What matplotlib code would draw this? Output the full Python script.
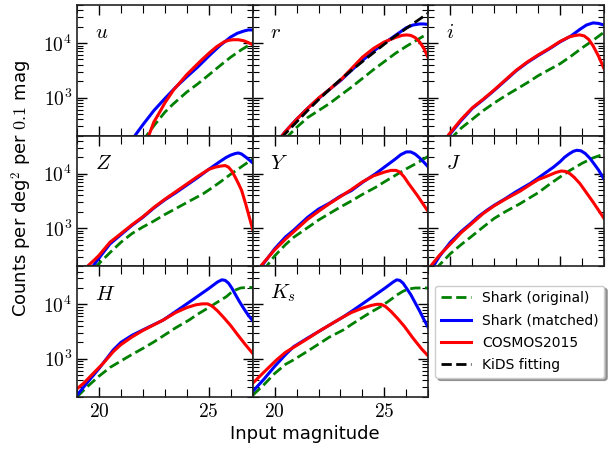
import numpy as np
import matplotlib
matplotlib.use("Agg")
import matplotlib.pyplot as plt
from matplotlib.ticker import MultipleLocator, FuncFormatter, NullFormatter
from matplotlib.lines import Line2D

plt.rcParams['mathtext.fontset'] = 'cm'
plt.rcParams['font.family'] = 'DejaVu Sans'

# Bandas (ordem dos paineis)
bands = ['u', 'r', 'i', 'Z', 'Y', 'J', 'H', 'K_s']

# Shark (original) - magnitude, contagens por deg^2 por 0.1 mag
orig_mag = {
    'u': [22.0, 22.17, 22.5, 23.0, 23.38, 24.0, 24.5, 24.9, 25.5, 26.0, 26.5, 27.0],
    'r': [20.5, 20.63, 21.0, 21.5, 22.0, 22.5, 23.0, 23.5, 24.0, 24.5, 25.0, 25.5, 26.0, 26.5, 27.0],
    'i': [20.0, 20.16, 20.5, 21.0, 21.5, 22.0, 22.5, 23.0, 23.5, 24.0, 24.5, 25.0, 25.5, 26.0, 26.5, 27.0],
    'Z': [19.8, 19.9, 20.5, 21.0, 21.5, 22.0, 22.5, 23.0, 23.5, 24.0, 24.74, 25.0, 25.5, 26.0, 26.5, 27.0],
    'Y': [19.5, 19.65, 20.0, 20.5, 20.86, 21.5, 22.0, 22.5, 23.0, 23.5, 24.0, 24.6, 25.0, 25.5, 26.0, 26.5, 27.0],
    'J': [19.35, 19.47, 20.0, 20.5, 20.91, 21.5, 22.0, 22.5, 23.18, 24.0, 24.5, 25.0, 25.45, 26.0, 26.5, 27.0],
    'H': [19.0, 19.5, 20.0, 20.5, 21.0, 21.5, 22.0, 22.5, 23.0, 23.5, 24.1, 24.5, 25.0, 25.4, 25.8, 26.0, 26.2, 26.45, 26.7, 27.0],
    'K_s': [19.0, 19.5, 20.0, 20.5, 20.86, 21.5, 22.0, 22.5, 23.13, 23.5, 24.0, 24.4, 24.8, 25.2, 25.6, 25.85, 26.1, 26.4, 27.0],
}
orig_cnt = {
    'u': [158, 200, 302, 537, 759, 1260, 1780, 2400, 3800, 5500, 7590, 10000],
    'r': [178, 200, 282, 427, 575, 776, 1100, 1550, 2240, 3240, 4570, 6460, 8710, 11500, 15100],
    'i': [166, 200, 275, 398, 575, 794, 1070, 1410, 1860, 2510, 3240, 4170, 5750, 8130, 11200, 15800],
    'Z': [182, 204, 355, 550, 794, 1050, 1350, 1780, 2290, 2950, 4270, 5010, 6920, 9770, 13500, 18600],
    'Y': [166, 204, 309, 501, 676, 1020, 1410, 1860, 2450, 3160, 4170, 5620, 7080, 9330, 12300, 15800, 20900],
    'J': [174, 204, 339, 501, 676, 1050, 1510, 2000, 2820, 4470, 6310, 8710, 11500, 15500, 19500, 22900],
    'H': [200, 316, 479, 692, 912, 1200, 1550, 2040, 2750, 3720, 5130, 6610, 8710, 11000, 13800, 16200, 18200, 19950, 20400, 20400],
    'K_s': [214, 331, 537, 794, 955, 1380, 1860, 2510, 3390, 4270, 5750, 7240, 8910, 11500, 15100, 17400, 19100, 19950, 19950],
}

# Shark (matched)
match_mag = {
    'u': [21.5, 21.64, 22.0, 22.5, 23.0, 23.5, 24.0, 24.5, 25.0, 25.5, 26.0, 26.3, 26.6, 26.8, 27.0],
    'r': [20.3, 20.5, 21.0, 21.5, 22.0, 22.5, 23.0, 23.5, 24.0, 24.5, 25.0, 25.5, 26.0, 26.3, 26.6, 26.8, 27.0],
    'i': [19.8, 19.93, 20.5, 21.0, 21.5, 22.0, 22.5, 23.0, 23.5, 24.0, 24.5, 25.0, 25.5, 25.9, 26.2, 26.5, 26.75, 27.0],
    'Z': [19.6, 19.74, 20.0, 20.5, 21.0, 21.5, 22.0, 22.5, 23.0, 23.5, 24.0, 24.5, 25.0, 25.5, 25.8, 26.0, 26.2,
          26.35, 26.5, 26.7, 26.85, 27.0],
    'Y': [19.3, 19.42, 20.0, 20.5, 20.86, 21.5, 22.0, 22.5, 23.0, 23.5, 24.0, 24.6, 25.0, 25.5, 25.75, 26.0, 26.2,
          26.4, 26.6, 26.8, 27.0],
    'J': [19.1, 19.24, 19.5, 20.0, 20.5, 20.91, 21.3, 21.67, 22.0, 22.5, 23.0, 23.64, 24.0, 24.7, 25.0, 25.2, 25.4,
          25.6, 25.76, 25.95, 26.15, 26.36, 26.55, 26.75, 27.0],
    'H': [19.0, 19.5, 20.0, 20.65, 21.0, 21.5, 22.0, 22.92, 23.5, 24.0, 24.5, 25.0, 25.2, 25.4, 25.6, 25.75, 25.9,
          26.05, 26.2, 26.4, 26.6, 26.8, 27.0],
    'K_s': [19.0, 19.5, 20.0, 20.5, 20.86, 21.5, 22.0, 22.5, 23.13, 23.5, 24.0, 24.5, 25.0, 25.2, 25.4, 25.56, 25.7,
            25.85, 26.0, 26.2, 26.4, 26.6, 26.8, 27.0],
}
match_cnt = {
    'u': [166, 200, 316, 575, 955, 1550, 2400, 3630, 5750, 8900, 12900, 15100, 16600, 17400, 17400],
    'r': [191, 240, 398, 631, 955, 1410, 2040, 3160, 4790, 7080, 10000, 13800, 19100, 21400, 22400, 22400, 21900],
    'i': [166, 200, 380, 631, 912, 1350, 2040, 3090, 4370, 5890, 7760, 10500, 13500, 17800, 21400, 23400, 22900, 21400],
    'Z': [166, 204, 282, 513, 759, 1120, 1580, 2340, 3310, 4470, 6170, 8510, 12000, 16600, 19950, 21900, 23400,
          24000, 22900, 19950, 17800, 15800],
    'Y': [174, 204, 417, 692, 912, 1580, 2240, 2880, 3890, 4900, 6920, 10000, 13200, 18600, 22400, 25100, 25100,
          22900, 19500, 16200, 13200],
    'J': [174, 204, 302, 550, 871, 1200, 1660, 2140, 2630, 3470, 4680, 6610, 8320, 13200, 16600, 19950, 22900,
          25700, 26900, 26300, 23400, 19100, 15100, 11700, 7940],
    'H': [214, 380, 661, 1450, 2000, 2690, 3390, 5130, 7410, 10200, 14100, 19500, 22400, 25700, 28200, 27500, 24500,
          19950, 15500, 11200, 8320, 6310, 5010],
    'K_s': [251, 417, 724, 1200, 1660, 2400, 3160, 4170, 5890, 7410, 10200, 14100, 19500, 22400, 25700, 28200, 27500,
            24500, 19950, 15100, 10700, 7590, 5250, 3720],
}

# COSMOS2015
cosmos_mag = {
    'u': [22.1, 22.27, 22.5, 22.75, 23.0, 23.4, 24.0, 24.6, 25.0, 25.35, 25.7, 25.9, 26.1, 26.35, 26.6, 26.8, 27.0],
    'r': [20.3, 20.5, 21.0, 21.5, 22.0, 22.5, 22.7, 23.0, 23.5, 24.0, 24.5, 25.0, 25.5, 25.8, 26.0, 26.2, 26.4,
          26.6, 26.8, 27.0],
    'i': [19.8, 19.93, 20.5, 21.0, 21.5, 22.0, 22.5, 23.0, 23.5, 24.0, 24.5, 25.0, 25.4, 25.7, 25.9, 26.1, 26.3,
          26.5, 26.75, 27.0],
    'Z': [19.4, 19.5, 19.8, 20.0, 20.5, 21.0, 21.5, 22.0, 22.5, 23.0, 23.5, 24.0, 24.5, 25.0, 25.3, 25.55, 25.75,
          25.9, 26.05, 26.2, 26.35, 26.5, 26.7, 26.85, 27.0],
    'Y': [19.3, 19.42, 20.0, 20.5, 20.86, 21.5, 22.0, 22.5, 23.0, 23.5, 24.0, 24.5, 25.0, 25.3, 25.53, 25.7, 25.9,
          26.1, 26.3, 26.5, 26.75, 27.0],
    'J': [19.0, 19.16, 19.5, 20.15, 20.5, 20.91, 21.5, 22.0, 22.5, 23.18, 23.64, 24.0, 24.5, 24.8, 25.05, 25.25,
          25.45, 25.65, 25.9, 26.2, 26.5, 26.75, 27.0],
    'H': [19.0, 19.3, 19.76, 20.2, 20.65, 21.0, 21.5, 22.0, 22.92, 23.5, 24.0, 24.4, 24.7, 24.95, 25.15, 25.4, 25.7,
          26.0, 26.3, 26.65, 27.0],
    'K_s': [19.0, 19.5, 20.09, 20.5, 20.86, 21.5, 22.0, 22.5, 23.13, 23.5, 24.0, 24.4, 24.65, 24.85, 25.05, 25.3,
            25.6, 25.9, 26.3, 26.7, 27.0],
}
cosmos_cnt = {
    'u': [178, 200, 355, 525, 794, 1380, 2630, 4570, 6460, 8510, 10500, 11200, 11500, 11500, 11000, 10200, 9330],
    'r': [191, 240, 398, 631, 977, 1410, 1660, 2090, 3390, 5500, 7940, 10500, 12600, 13800, 14100, 13800, 12600,
          10500, 7940, 5250],
    'i': [174, 209, 398, 646, 933, 1380, 2090, 3160, 4470, 6030, 7940, 10700, 12900, 13800, 14100, 13500, 11700,
          8910, 5750, 3390],
    'Z': [178, 204, 263, 316, 550, 794, 1150, 1620, 2400, 3390, 4680, 6460, 8910, 12000, 13200, 13800, 14100,
          13200, 11200, 8710, 6610, 4900, 2630, 1580, 955],
    'Y': [182, 214, 398, 631, 851, 1450, 2040, 2820, 3800, 5130, 7080, 9120, 10700, 11500, 11500, 10700, 8710,
          6610, 5130, 3980, 2820, 2000],
    'J': [178, 214, 316, 589, 832, 1150, 1860, 2570, 3390, 4790, 6310, 7760, 9330, 10500, 11200, 11000, 10000,
          8510, 6610, 4470, 3020, 2140, 1510],
    'H': [282, 355, 550, 832, 1350, 1820, 2510, 3310, 5130, 7080, 8710, 9770, 10200, 10200, 9330, 7590, 5620,
          4070, 2820, 1860, 1260],
    'K_s': [355, 562, 955, 1320, 1620, 2340, 3160, 4170, 5890, 7080, 8510, 9550, 10000, 10000, 9120, 7410, 5500,
            3980, 2400, 1510, 1120],
}

# Ajuste do KiDS (so na banda r)
kids_mag = [20.3, 20.4, 21.0, 21.5, 22.0, 22.5, 23.0, 23.5, 24.0, 24.5, 25.0, 25.5, 26.0, 26.5, 27.0]
kids_cnt = [182, 200, 355, 575, 912, 1410, 2140, 3160, 4570, 6610, 9550, 13500, 18600, 25700, 35500]


def log_ticks(v, pos):
    return r'$10^{%d}$' % int(round(np.log10(v)))


def num_ticks(v, pos):
    return r'$%d$' % int(round(v))


fig, axes = plt.subplots(3, 3, figsize=(6.09, 4.5), dpi=100, sharex=True, sharey=True)
fig.subplots_adjust(left=0.1264, right=0.9918, top=0.989, bottom=0.118, hspace=0, wspace=0)

for k, band in enumerate(bands):
    ax = axes[k // 3, k % 3]
    ax.plot(orig_mag[band], orig_cnt[band], '--', color='green', lw=2)
    ax.plot(match_mag[band], match_cnt[band], '-', color='blue', lw=2.2)
    ax.plot(cosmos_mag[band], cosmos_cnt[band], '-', color='red', lw=2.2)
    if band == 'r':
        ax.plot(kids_mag, kids_cnt, '--', color='black', lw=2)
    ax.text(0.1, 0.79, r'$%s$' % band, transform=ax.transAxes, fontsize=15,
            ha='left', va='center')

    ax.set_yscale('log')
    ax.set_xlim(19, 27)
    ax.set_ylim(200, 5e4)
    ax.xaxis.set_major_locator(MultipleLocator(5))
    ax.xaxis.set_minor_locator(MultipleLocator(1))
    ax.xaxis.set_major_formatter(FuncFormatter(num_ticks))
    ax.yaxis.set_major_formatter(FuncFormatter(log_ticks))
    ax.yaxis.set_minor_formatter(NullFormatter())
    ax.tick_params(which='both', direction='in', top=True, right=True, labelsize=14)
    ax.tick_params(which='major', length=7, width=1)
    ax.tick_params(which='minor', length=4, width=0.8)
    ax.tick_params(axis='x', which='minor', length=6)
    for s in ax.spines.values():
        s.set_color('#222222')
        s.set_linewidth(1.2)

# Painel vazio vira legenda
axes[2, 2].axis('off')
handles = [
    Line2D([], [], ls='--', color='green', lw=2),
    Line2D([], [], ls='-', color='blue', lw=2.2),
    Line2D([], [], ls='-', color='red', lw=2.2),
    Line2D([], [], ls='--', color='black', lw=2),
]
labels = ['Shark (original)', 'Shark (matched)', 'COSMOS2015', 'KiDS fitting']
axes[2, 2].legend(handles, labels, loc='center', bbox_to_anchor=(0.52, 0.5),
                  fontsize=10, fancybox=True, shadow=True, framealpha=1,
                  edgecolor='0.8', handlelength=2.2, labelspacing=0.6)

fig.text(0.035, 0.58, r'Counts per deg$^2$ per $0.1$ mag', rotation=90,
         ha='center', va='center', fontsize=13)
fig.text(0.5, 0.035, 'Input magnitude', ha='center', va='center', fontsize=13)

plt.savefig('out.png', dpi=100)
